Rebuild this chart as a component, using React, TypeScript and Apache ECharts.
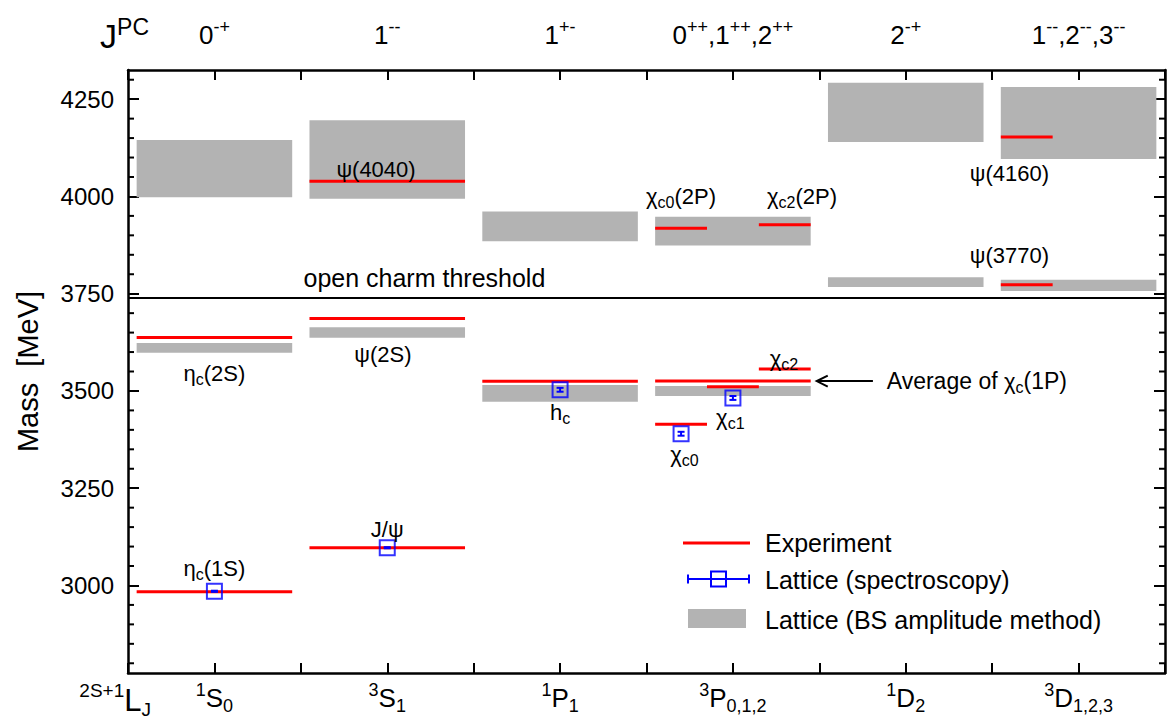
import React, { useEffect, useRef } from "react";
import * as echarts from "echarts";

const FONT = '"Liberation Sans", Arial, Helvetica, sans-serif';
const RED = "#ff0000";
const BLUE = "#0000ff";
const GRAY = "#b3b3b3";

// ---- axes ----
const xMin = 0;
const xMax = 12;
const columnCenters = [1, 3, 5, 7, 9, 11];
const bottomLabels = [
  "{sup|1}{m|S}{sub|0}",
  "{sup|3}{m|S}{sub|1}",
  "{sup|1}{m|P}{sub|1}",
  "{sup|3}{m|P}{sub|0,1,2}",
  "{sup|1}{m|D}{sub|2}",
  "{sup|3}{m|D}{sub|1,2,3}",
];
const topLabels = [
  "{m|0}{sup|-+}",
  "{m|1}{sup|--}",
  "{m|1}{sup|+-}",
  "{m|0}{sup|++}{m|,1}{sup|++}{m|,2}{sup|++}",
  "{m|2}{sup|-+}",
  "{m|1}{sup|--}{m|,2}{sup|--}{m|,3}{sup|--}",
];
const massMin = 2775;
const massMax = 4325;
const majorTicks = [3000, 3250, 3500, 3750, 4000, 4250];
const minorTicks = [
  2800, 2850, 2900, 2950, 3050, 3100, 3150, 3200, 3300, 3350, 3400, 3450, 3550, 3600,
  3650, 3700, 3800, 3850, 3900, 3950, 4050, 4100, 4150, 4200, 4300,
];
const openCharmThreshold = 3740;

// ---- Lattice (BS amplitude method) bands ----
const bsColumn = [0, 1, 2, 3, 4, 5, 0, 1, 2, 3, 4, 5];
const bsLow = [3998, 3994, 3885, 3874, 4140, 4096, 3598, 3637, 3472, 3487, 3767, 3757];
const bsHigh = [4145, 4196, 3961, 3948, 4292, 4281, 3623, 3664, 3515, 3513, 3792, 3786];

// ---- Experiment (slot -1 = whole column, 0/1/2 = J sub-column) ----
const expNames = [
  "eta_c(1S)", "J/psi", "eta_c(2S)", "psi(2S)", "psi(4040)", "h_c", "chi_c avg",
  "chi_c0", "chi_c1", "chi_c2", "chi_c0(2P)", "chi_c2(2P)", "psi(3770)", "psi(4160)",
];
const expColumn = [0, 1, 0, 1, 1, 2, 3, 3, 3, 3, 3, 3, 5, 5];
const expSlot = [-1, -1, -1, -1, -1, -1, -1, 0, 1, 2, 0, 2, 0, 0];
const expMass = [2984, 3097, 3637.5, 3686, 4039, 3525, 3525.3, 3414.7, 3510.7, 3556.2, 3918, 3927, 3773, 4153];

// ---- Lattice (spectroscopy) ----
const latColumn = [0, 1, 2, 3, 3];
const latSlot = [-1, -1, -1, 0, 1];
const latMass = [2985, 3097, 3503, 3390, 3482];
const latErr = [1.5, 1.5, 5, 5, 5];

// ---- annotations ----
const annText = [
  "{g|η}{s|c}{n|(1S)}",
  "{n|J/ψ}",
  "{g|η}{s|c}{n|(2S)}",
  "{g|ψ}{n|(2S)}",
  "{n|h}{s|c}",
  "{g|χ}{s|c0}",
  "{g|χ}{s|c1}",
  "{g|χ}{s|c2}",
  "{g|ψ}{n|(4040)}",
  "{g|χ}{s|c0}{n|(2P)}",
  "{g|χ}{s|c2}{n|(2P)}",
  "{g|ψ}{n|(4160)}",
  "{g|ψ}{n|(3770)}",
  "{t|open charm threshold}",
  "{a|Average of }{g|χ}{s|c}{a|(1P)}",
];
const annX = [1, 3, 1, 2.95, 5, 6.44, 6.97, 7.59, 2.87, 6.4, 7.8, 10.2, 10.2, 3.43, 8.78];
const annY = [3043, 3145, 3546, 3594, 3445, 3337, 3432, 3583, 4068, 4000, 4000, 4060, 3848, 3791, 3525];
const annAlign = ["center", "center", "center", "center", "center", "center", "center", "center", "center", "center", "center", "center", "center", "center", "left"];
const arrowFrom = [8.62, 3525.3];
const arrowTo = [7.97, 3525.3];

const legendNames = ["Experiment", "Lattice (spectroscopy)", "Lattice (BS amplitude method)"];

const HALF = 0.9;
const SLOT = 0.6;
function span(col: number, slot: number): [number, number] {
  const c = columnCenters[col];
  if (slot < 0) return [c - HALF, c + HALF];
  return [c - HALF + SLOT * slot, c - HALF + SLOT * (slot + 1)];
}

const axisRich = {
  m: { fontSize: 26, fontFamily: FONT, color: "#000", lineHeight: 34, verticalAlign: "middle" },
  sup: { fontSize: 18, fontFamily: FONT, color: "#000", lineHeight: 18, verticalAlign: "top" },
  sub: { fontSize: 18, fontFamily: FONT, color: "#000", lineHeight: 18, verticalAlign: "bottom" },
};

const annRich = {
  n: { fontSize: 22, fontFamily: FONT, fill: "#000", lineHeight: 28, verticalAlign: "middle" },
  g: { fontSize: 22, fontFamily: FONT, fill: "#000", lineHeight: 28, verticalAlign: "middle" },
  s: { fontSize: 16, fontFamily: FONT, fill: "#000", lineHeight: 16, verticalAlign: "bottom" },
  t: { fontSize: 25, fontFamily: FONT, fill: "#000", lineHeight: 28, verticalAlign: "middle" },
  a: { fontSize: 23, fontFamily: FONT, fill: "#000", lineHeight: 28, verticalAlign: "middle" },
};

const titleTopRich = {
  m: { fontSize: 34, fontFamily: FONT, fill: "#000", lineHeight: 42, verticalAlign: "middle" },
  sup: { fontSize: 23, fontFamily: FONT, fill: "#000", lineHeight: 23, verticalAlign: "top" },
};
const titleBottomRich = {
  m: { fontSize: 31, fontFamily: FONT, fill: "#000", lineHeight: 38, verticalAlign: "middle" },
  sup: { fontSize: 19, fontFamily: FONT, fill: "#000", lineHeight: 19, verticalAlign: "top" },
  sub: { fontSize: 19, fontFamily: FONT, fill: "#000", lineHeight: 19, verticalAlign: "bottom" },
};

function buildOption() {
  const bandData = bsColumn.map((c, i) => {
    const [x0, x1] = span(c, -1);
    return [x0, x1, bsLow[i], bsHigh[i]];
  });
  const expData = expColumn.map((c, i) => {
    const [x0, x1] = span(c, expSlot[i]);
    return { name: expNames[i], value: [x0, x1, expMass[i]] };
  });
  const latPos = latColumn.map((c, i) => {
    const [x0, x1] = span(c, latSlot[i]);
    return (x0 + x1) / 2;
  });
  const latData = latMass.map((m, i) => [latPos[i], m]);
  const errData = latMass.map((m, i) => [latPos[i], m, latErr[i]]);
  const annData = annText.map((_, i) => [annX[i], annY[i], i]);
  const minorData = minorTicks.map((v) => [xMin, v, xMax]);

  const frameLine = { show: true, onZero: false, lineStyle: { color: "#000", width: 2.5 } };
  const yCommon = {
    type: "value",
    min: massMin,
    max: massMax,
    splitLine: { show: false },
    axisLine: frameLine,
  };

  return {
    animation: false,
    backgroundColor: "#fff",
    grid: { left: 128, right: 5, top: 70, bottom: 50, containLabel: false },
    xAxis: [
      {
        type: "value",
        min: xMin,
        max: xMax,
        interval: 1,
        position: "bottom",
        splitLine: { show: false },
        axisLine: frameLine,
        axisTick: { show: true, inside: true, length: 10, lineStyle: { color: "#000", width: 2 } },
        axisLabel: {
          margin: 8,
          formatter: (v: number) => {
            const i = columnCenters.indexOf(v);
            return i >= 0 ? bottomLabels[i] : "";
          },
          rich: axisRich,
        },
      },
      {
        type: "value",
        min: xMin,
        max: xMax,
        interval: 1,
        position: "top",
        splitLine: { show: false },
        axisLine: frameLine,
        axisTick: { show: true, inside: true, length: 10, lineStyle: { color: "#000", width: 2 } },
        axisLabel: {
          margin: 18,
          formatter: (v: number) => {
            const i = columnCenters.indexOf(v);
            return i >= 0 ? topLabels[i] : "";
          },
          rich: axisRich,
        },
      },
    ],
    yAxis: [
      {
        ...yCommon,
        position: "left",
        axisTick: { show: true, inside: true, length: 11, customValues: majorTicks, lineStyle: { color: "#000", width: 2 } },
        axisLabel: {
          show: true,
          customValues: majorTicks,
          margin: 14,
          fontSize: 24,
          fontFamily: FONT,
          color: "#000",
          formatter: (v: number) => String(v),
        },
        name: "Mass  [MeV]",
        nameLocation: "middle",
        nameGap: 86,
        nameTextStyle: { fontSize: 29, fontFamily: FONT, color: "#000" },
      },
      {
        ...yCommon,
        position: "right",
        axisTick: { show: true, inside: true, length: 11, customValues: majorTicks, lineStyle: { color: "#000", width: 2 } },
        axisLabel: { show: false },
      },
    ],
    series: [
      {
        name: legendNames[2],
        type: "custom",
        z: 1,
        encode: { x: [0, 1], y: [2, 3] },
        data: bandData,
        renderItem: (_p: any, api: any) => {
          const a = api.coord([api.value(0), api.value(3)]);
          const b = api.coord([api.value(1), api.value(2)]);
          return {
            type: "rect",
            shape: { x: a[0], y: a[1], width: b[0] - a[0], height: b[1] - a[1] },
            style: { fill: GRAY },
          };
        },
        markLine: {
          silent: true,
          symbol: ["none", "none"],
          label: { show: false },
          lineStyle: { color: "#000", width: 2, type: "solid" },
          data: [{ yAxis: openCharmThreshold }],
        },
      },
      {
        name: "minor-ticks",
        type: "custom",
        z: 6,
        silent: true,
        clip: false,
        encode: { x: [0, 2], y: 1 },
        data: minorData,
        renderItem: (_p: any, api: any) => {
          const l = api.coord([api.value(0), api.value(1)]);
          const r = api.coord([api.value(2), api.value(1)]);
          const st = { stroke: "#000", lineWidth: 2 };
          return {
            type: "group",
            children: [
              { type: "line", shape: { x1: l[0], y1: l[1], x2: l[0] + 6, y2: l[1] }, style: st },
              { type: "line", shape: { x1: r[0] - 6, y1: r[1], x2: r[0], y2: r[1] }, style: st },
            ],
          };
        },
      },
      {
        name: legendNames[0],
        type: "custom",
        z: 2,
        encode: { x: [0, 1], y: 2 },
        data: expData,
        renderItem: (_p: any, api: any) => {
          const a = api.coord([api.value(0), api.value(2)]);
          const b = api.coord([api.value(1), api.value(2)]);
          return {
            type: "line",
            shape: { x1: a[0], y1: a[1], x2: b[0], y2: b[1] },
            style: { stroke: RED, lineWidth: 3 },
          };
        },
      },
      {
        name: "lattice-err",
        type: "custom",
        z: 3,
        encode: { x: 0, y: 1 },
        data: errData,
        renderItem: (_p: any, api: any) => {
          const x = api.value(0);
          const m = api.value(1);
          const e = api.value(2);
          const t = api.coord([x, m + e]);
          const b = api.coord([x, m - e]);
          const st = { stroke: BLUE, lineWidth: 2 };
          return {
            type: "group",
            children: [
              { type: "line", shape: { x1: t[0], y1: t[1], x2: b[0], y2: b[1] }, style: st },
              { type: "line", shape: { x1: t[0] - 3.5, y1: t[1], x2: t[0] + 3.5, y2: t[1] }, style: st },
              { type: "line", shape: { x1: b[0] - 3.5, y1: b[1], x2: b[0] + 3.5, y2: b[1] }, style: st },
            ],
          };
        },
      },
      {
        name: legendNames[1],
        type: "scatter",
        z: 4,
        symbol: "rect",
        symbolSize: 15,
        itemStyle: { color: "rgba(0,0,0,0)", borderColor: BLUE, borderWidth: 2 },
        data: latData,
      },
      {
        name: "annotations",
        type: "custom",
        z: 5,
        encode: { x: 0, y: 1 },
        data: annData,
        renderItem: (_p: any, api: any) => {
          const i = api.value(2);
          const p = api.coord([api.value(0), api.value(1)]);
          return {
            type: "text",
            x: p[0],
            y: p[1],
            style: {
              legacy: false,
              text: annText[i],
              rich: annRich,
              fill: "#000",
              fontSize: 22,
              fontFamily: FONT,
              align: annAlign[i],
              verticalAlign: "middle",
            },
          };
        },
      },
      {
        name: "arrow",
        type: "custom",
        z: 5,
        encode: { x: [0, 2], y: [1, 3] },
        data: [[arrowFrom[0], arrowFrom[1], arrowTo[0], arrowTo[1]]],
        renderItem: (_p: any, api: any) => {
          const a = api.coord([api.value(0), api.value(1)]);
          const b = api.coord([api.value(2), api.value(3)]);
          const st = { stroke: "#000", lineWidth: 2, fill: "none" };
          return {
            type: "group",
            children: [
              { type: "line", shape: { x1: a[0], y1: a[1], x2: b[0] + 2, y2: b[1] }, style: st },
              {
                type: "polyline",
                shape: { points: [[b[0] + 11, b[1] - 5.5], [b[0], b[1]], [b[0] + 11, b[1] + 5.5]] },
                style: st,
              },
            ],
          };
        },
      },
    ],
    graphic: [
      {
        type: "text",
        x: 149,
        y: 36,
        style: { legacy: false, text: "{m|J}{sup|PC}", rich: titleTopRich, fill: "#000", align: "right", verticalAlign: "middle" },
      },
      {
        type: "text",
        x: 151,
        y: 700,
        style: { legacy: false, text: "{sup|2S+1}{m|L}{sub|J}", rich: titleBottomRich, fill: "#000", align: "right", verticalAlign: "middle" },
      },
      { type: "line", shape: { x1: 683, y1: 543, x2: 750, y2: 543 }, style: { stroke: RED, lineWidth: 3 } },
      { type: "line", shape: { x1: 688, y1: 579, x2: 749, y2: 579 }, style: { stroke: BLUE, lineWidth: 2 } },
      { type: "line", shape: { x1: 688, y1: 574.5, x2: 688, y2: 583.5 }, style: { stroke: BLUE, lineWidth: 2 } },
      { type: "line", shape: { x1: 749, y1: 574.5, x2: 749, y2: 583.5 }, style: { stroke: BLUE, lineWidth: 2 } },
      { type: "rect", shape: { x: 711, y: 571.5, width: 15, height: 15 }, style: { fill: "none", stroke: BLUE, lineWidth: 2 } },
      { type: "rect", shape: { x: 688, y: 609, width: 58, height: 19 }, style: { fill: GRAY } },
      {
        type: "text",
        x: 765,
        y: 543,
        style: { legacy: false, text: legendNames[0], fontSize: 25, fontFamily: FONT, fill: "#000", align: "left", verticalAlign: "middle" },
      },
      {
        type: "text",
        x: 765,
        y: 580,
        style: { legacy: false, text: legendNames[1], fontSize: 25, fontFamily: FONT, fill: "#000", align: "left", verticalAlign: "middle" },
      },
      {
        type: "text",
        x: 765,
        y: 620,
        style: { legacy: false, text: legendNames[2], fontSize: 25, fontFamily: FONT, fill: "#000", align: "left", verticalAlign: "middle" },
      },
    ],
  };
}

export default function App() {
  const ref = useRef<HTMLDivElement>(null);
  useEffect(() => {
    document.body.style.margin = "0";
    const chart = echarts.init(ref.current as HTMLDivElement, undefined, { renderer: "svg" });
    chart.setOption(buildOption() as any);
    return () => chart.dispose();
  }, []);
  return <div ref={ref} style={{ width: 1170, height: 723 }} />;
}
